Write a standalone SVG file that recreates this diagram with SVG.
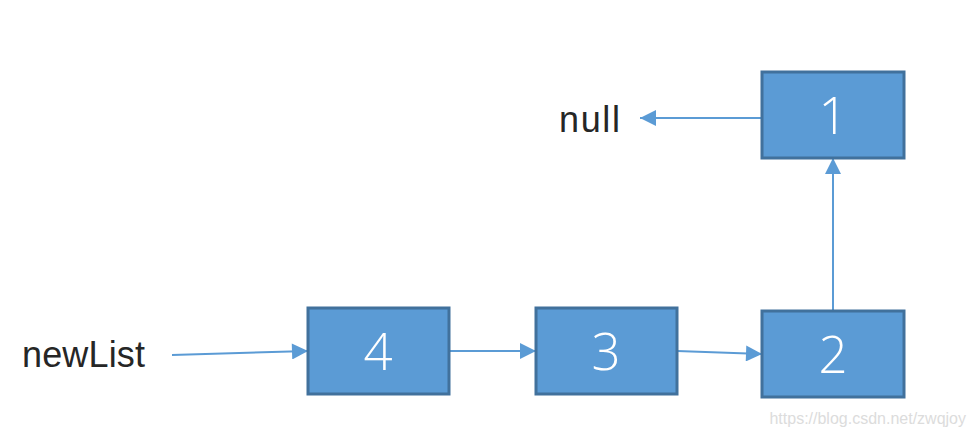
<svg xmlns="http://www.w3.org/2000/svg" width="976" height="432" viewBox="0 0 976 432">
<style>
.box{fill:#5b9bd5;stroke:#41719c;stroke-width:3}
.num{font-family:"Open Sans","Liberation Sans",Arial,sans-serif;font-weight:300;font-size:51px;fill:#ffffff;text-anchor:middle}
.lbl{font-family:"Liberation Sans",Arial,sans-serif;font-size:36px;fill:#262626}
.con{stroke:#5b9bd5;stroke-width:2;fill:none;marker-end:url(#ah)}
</style>
<defs>
<marker id="ah" viewBox="0 0 10 10" refX="10" refY="5" markerWidth="10" markerHeight="8" markerUnits="strokeWidth" orient="auto">
<path d="M0,0 L10,5 L0,10 z" fill="#5b9bd5"/>
</marker>
</defs>
<rect width="976" height="432" fill="#ffffff"/>
<g id="connectors">
<line class="con" x1="172" y1="355" x2="308" y2="351"/>
<line class="con" x1="449" y1="351" x2="536" y2="351"/>
<line class="con" x1="677" y1="351" x2="762" y2="354"/>
<line class="con" x1="833" y1="311" x2="833" y2="158"/>
<line class="con" x1="762" y1="118" x2="640" y2="118"/>
</g>
<g id="node1"><rect class="box" x="762" y="72" width="142" height="86"/><text class="num" x="833" y="134">1</text></g>
<g id="node2"><rect class="box" x="762" y="311" width="142" height="86"/><text class="num" x="833" y="373">2</text></g>
<g id="node3"><rect class="box" x="536" y="308" width="141" height="86"/><text class="num" x="606" y="370">3</text></g>
<g id="node4"><rect class="box" x="308" y="308" width="141" height="86"/><text class="num" x="378" y="370">4</text></g>
<g id="null"><text class="lbl" x="559" y="132" textLength="61">null</text></g>
<g id="newList"><text class="lbl" x="22" y="367" textLength="123">newList</text></g>
<text x="966" y="424" text-anchor="end" font-family="Liberation Sans,Arial,sans-serif" font-size="16" fill="#dcdcdc">https://blog.csdn.net/zwqjoy</text>
</svg>
